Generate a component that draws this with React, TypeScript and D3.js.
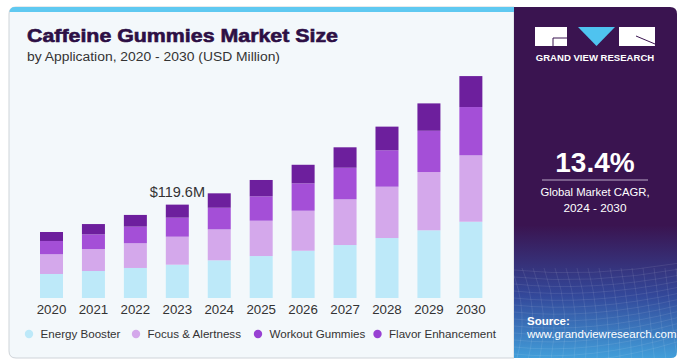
import React from "react";
import * as d3 from "d3";

const years = ["2020","2021","2022","2023","2024","2025","2026","2027","2028","2029","2030"];
const energyBooster = [30.8, 34.6, 38.5, 42.7, 48.3, 53.8, 60.6, 67.9, 76.9, 86.8, 97.8];
const focusAlertness = [25.3, 28.2, 31.7, 35.9, 39.7, 45.3, 51.3, 58.6, 65.8, 74.7, 85.1];
const workoutGummies = [17.0, 18.8, 21.3, 24.4, 27.7, 31.3, 35.1, 40.5, 46.7, 52.9, 61.9];
const flavorEnhancement = [11.5, 13.2, 15.0, 16.7, 18.5, 20.9, 23.8, 26.2, 30.3, 35.1, 39.7];
const seriesNames = ["Energy Booster", "Focus & Alertness", "Workout Gummies", "Flavor Enhancement"];
const seriesColors = ["#bde9f9", "#d4a8eb", "#a44fd7", "#6d1f9d"];
const legendColors = ["#bde9f9", "#d4a8eb", "#9841d3", "#9841d3"];
const annotationYear = "2023";
const annotationText = "$119.6M";

const FONT = "'Liberation Sans', Arial, sans-serif";

export default function App() {
  const x = d3.scaleBand<string>().domain(years).range([21.07, 501.3]).paddingInner(0.4515).paddingOuter(0.4515);
  const y = d3.scaleLinear().domain([0, 250]).range([298, 103]);
  const rows = years.map((yr, i) => ({
    year: yr,
    e: energyBooster[i],
    f: focusAlertness[i],
    w: workoutGummies[i],
    fl: flavorEnhancement[i],
  }));
  const stack = d3.stack<any>().keys(["e", "f", "w", "fl"]);
  const layers = stack(rows);
  const annIdx = years.indexOf(annotationYear);
  const annTop = layers[3][annIdx][1];

  const legendX = [29, 136, 258, 377.5];

  return (
    <svg width={690} height={364} style={{ position: "absolute", left: 0, top: 0, background: "#fff" }}>
      <defs>
        <linearGradient id="panelGrad" x1="0" y1="0" x2="0" y2="1">
          <stop offset="0" stopColor="#3a1450" />
          <stop offset="0.62" stopColor="#3a1450" />
          <stop offset="0.82" stopColor="#33489a" />
          <stop offset="1" stopColor="#42a0db" />
        </linearGradient>
        <clipPath id="panelClip">
          <path d="M514,7 H670 Q677,7 677,14 V352 Q677,358 671,358 H514 Z" />
        </clipPath>
      </defs>
      {/* card */}
      <path d="M9,14 Q9,7 16,7 H514 V358 H16 Q9,358 9,351 Z" fill="#f3f8fb" stroke="#cfd4d9" strokeWidth={1} />
      <path d="M9.5,12.5 Q9.5,7 15,7 H514 V12 H9.5 Z" fill="#5fc9f1" />
      {/* right panel */}
      <g clipPath="url(#panelClip)">
        <rect x={514} y={7} width={164} height={352} fill="url(#panelGrad)" />
        {d3.range(0, 14).map((k) => (
          <path key={"h" + k} d={`M514,${270 + k * 7} Q590,${278 + k * 7} 680,${263 + k * 6}`} stroke="#ffffff" strokeOpacity={0.09} fill="none" />
        ))}
        {d3.range(0, 18).map((k) => (
          <path key={"v" + k} d={`M${500 + k * 11},268 Q${520 + k * 10},312 ${505 + k * 11.5},360`} stroke="#ffffff" strokeOpacity={0.09} fill="none" />
        ))}
      </g>
      {/* logo */}
      <g>
        <rect x={535} y={27} width={32} height={19} fill="#ffffff" />
        <path d="M553,38 H567" stroke="#3a1450" strokeWidth={1} />
        <path d="M553,38 V46" stroke="#3a1450" strokeWidth={1} />
        <path d="M578,27 H615 L596.5,46 Z" fill="#4fc3ef" />
        <rect x={619} y={27} width={36} height={19} fill="#ffffff" />
        <path d="M636,36 L655,44" stroke="#3a1450" strokeWidth={1} />
        <text x={595} y={61} textAnchor="middle" fill="#ffffff" fontFamily={FONT} fontWeight={700} fontSize={9.3} textLength={118.5} lengthAdjust="spacingAndGlyphs">GRAND VIEW RESEARCH</text>
      </g>
      <text x={595} y={171.5} textAnchor="middle" fill="#ffffff" fontFamily={FONT} fontWeight={700} fontSize={28}>13.4%</text>
      <line x1={542} x2={648} y1={180} y2={180} stroke="#b9a7c6" strokeWidth={1.2} />
      <text x={595} y={195.5} textAnchor="middle" fill="#ffffff" fontFamily={FONT} fontSize={11.3}>Global Market CAGR,</text>
      <text x={595} y={211.5} textAnchor="middle" fill="#ffffff" fontFamily={FONT} fontSize={11.8}>2024 - 2030</text>
      <text x={527} y={325} fill="#ffffff" fontFamily={FONT} fontWeight={700} fontSize={11.5}>Source:</text>
      <text x={527} y={338} fill="#ffffff" fontFamily={FONT} fontSize={11.5}>www.grandviewresearch.com</text>

      {/* title */}
      <text x={27} y={42} fill="#2d0f45" fontFamily={FONT} fontWeight={900} fontSize={18.5} stroke="#2d0f45" strokeWidth={0.6} textLength={311} lengthAdjust="spacingAndGlyphs">Caffeine Gummies Market Size</text>
      <text x={27} y={61} fill="#333333" fontFamily={FONT} fontSize={12.5} textLength={253} lengthAdjust="spacingAndGlyphs">by Application, 2020 - 2030 (USD Million)</text>

      {/* bars */}
      {layers.map((layer, li) => (
        <g key={li} fill={seriesColors[li]}>
          {layer.map((d, i) => (
            <rect key={i} x={x(years[i])} y={y(d[1])} width={x.bandwidth()} height={y(d[0]) - y(d[1])} />
          ))}
        </g>
      ))}
      {/* year labels */}
      {years.map((yr) => (
        <text key={yr} x={(x(yr) as number) + x.bandwidth() / 2} y={313.5} textAnchor="middle" fill="#333333" fontFamily={FONT} fontSize={13.3}>{yr}</text>
      ))}
      <text x={(x(annotationYear) as number) + x.bandwidth() / 2} y={y(annTop) - 8} textAnchor="middle" fill="#333333" fontFamily={FONT} fontSize={14.5}>{annotationText}</text>

      {/* legend */}
      {seriesNames.map((n, i) => (
        <g key={n}>
          <circle cx={legendX[i]} cy={334} r={4.2} fill={legendColors[i]} />
          <text x={legendX[i] + 11.5} y={338.2} fill="#333333" fontFamily={FONT} fontSize={11.6}>{n}</text>
        </g>
      ))}
    </svg>
  );
}
